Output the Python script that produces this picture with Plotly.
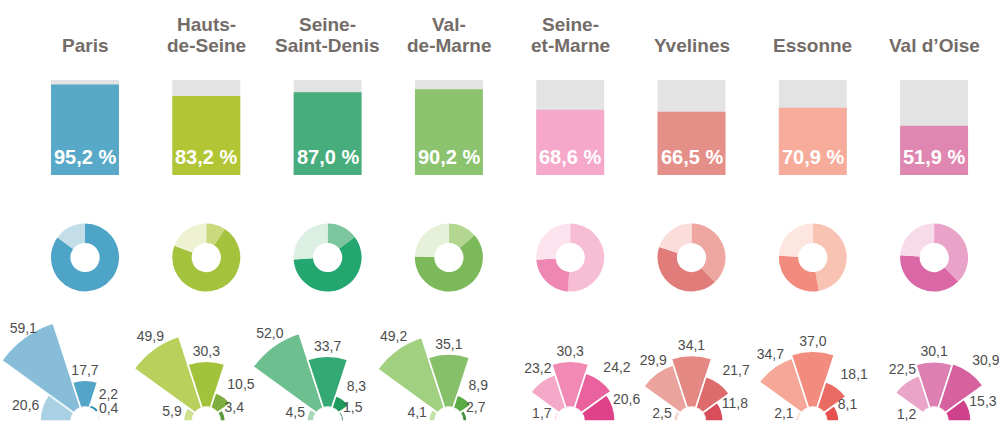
import math
import plotly.graph_objects as go

W, H = 999, 421

# ---------------- data ----------------
departments = ["Paris", "Hauts-<br>de-Seine", "Seine-<br>Saint-Denis", "Val-<br>de-Marne",
               "Seine-<br>et-Marne", "Yvelines", "Essonne", "Val d’Oise"]

bar_values = [95.2, 83.2, 87.0, 90.2, 68.6, 66.5, 70.9, 51.9]

# donut segments, clockwise from 12 o'clock
donut_a = [0.0, 9.2, 14.7, 13.6, 51.1, 38.0, 47.2, 37.5]
donut_b = [85.0, 71.4, 59.4, 61.9, 22.8, 42.0, 28.6, 38.6]
donut_c = [15.0, 19.4, 25.9, 24.5, 26.1, 20.0, 24.2, 23.9]

# fan values, from left wedge to right wedge
fan_paris = [20.6, 59.1, 17.7, 2.2, 0.4]
fan_hauts_de_seine = [5.9, 49.9, 30.3, 10.5, 3.4]
fan_seine_saint_denis = [4.5, 52.0, 33.7, 8.3, 1.5]
fan_val_de_marne = [4.1, 49.2, 35.1, 8.9, 2.7]
fan_seine_et_marne = [1.7, 23.2, 30.3, 24.2, 20.6]
fan_yvelines = [2.5, 29.9, 34.1, 21.7, 11.8]
fan_essonne = [2.1, 34.7, 37.0, 18.1, 8.1]
fan_val_d_oise = [1.2, 22.5, 30.1, 30.9, 15.3]
fan_values = [fan_paris, fan_hauts_de_seine, fan_seine_saint_denis, fan_val_de_marne,
              fan_seine_et_marne, fan_yvelines, fan_essonne, fan_val_d_oise]

# ---------------- styles ----------------
bar_colors = ["#58a9c8", "#b1c535", "#47ad7d", "#8cc36f", "#f5a8ca", "#e58f89", "#f7ab9a", "#e087b1"]
donut_colors = [
    ["#c3dde9", "#4da4c6", "#c3dde9"],
    ["#c9d97c", "#a4c23b", "#eef2d3"],
    ["#7dc69d", "#24a670", "#dcefe3"],
    ["#b3d790", "#7bb95b", "#e7f1da"],
    ["#f7bdd5", "#ee87b1", "#fde3ee"],
    ["#eda6a0", "#e07d7a", "#fbdedb"],
    ["#f9c3b3", "#f08b7e", "#fde6df"],
    ["#e9a3c8", "#da68a6", "#f7dbe9"],
]
fan_colors = [
    ["#a9d1e3", "#87bdd8", "#52a5c7", "#2a8db0", "#1e7694"],
    ["#cfe08f", "#b9d15c", "#a3c23c", "#7dae3e", "#5e9a3c"],
    ["#a8d8b8", "#6dbf8f", "#35a974", "#1f9a5d", "#137c4a"],
    ["#c3e2a8", "#a0d080", "#86c069", "#5aaa46", "#3f8f38"],
    ["#fbd3e3", "#f5a9c9", "#f08ab5", "#e9619d", "#e0428a"],
    ["#f6cfcb", "#eba39d", "#e48884", "#dd6b6c", "#d84c5b"],
    ["#fcd7cc", "#f6a797", "#f28c7e", "#ea6b63", "#e6504f"],
    ["#f4c6dc", "#e9a4c8", "#de7fb3", "#d7619f", "#cf428b"],
]

TITLE_COLOR = "#736c68"
LABEL_COLOR = "#4d4d4d"
FONT = "Liberation Sans, Arial, sans-serif"

# column geometry (pixels)
X0, STEP = 85.0, 121.3
cols = [X0 + STEP * i for i in range(len(departments))]

fig = go.Figure()

# ---------------- bars ----------------
idx = list(range(len(departments)))
fig.add_bar(x=idx, y=[100] * len(idx), width=0.56, marker=dict(color="#e3e3e3", line_width=0),
            hoverinfo="skip", xaxis="x", yaxis="y")
fig.add_bar(x=idx, y=bar_values, width=0.56, marker=dict(color=bar_colors, line_width=0),
            hoverinfo="skip", xaxis="x", yaxis="y")

annotations = []
for i, v in enumerate(bar_values):
    annotations.append(dict(x=i, y=0, xref="x", yref="y", yanchor="bottom", yshift=5,
                            text=f"{v:.1f}".replace(".", ",") + " %", showarrow=False,
                            font=dict(family=FONT, size=20, color="white", weight="bold")))

# titles
for i, name in enumerate(departments):
    lines = name.split("<br>")
    ys = [45.5] if len(lines) == 1 else [24.5, 45.5]
    for line, py in zip(lines, ys):
        annotations.append(dict(x=cols[i] / W, y=1 - py / H, xref="paper", yref="paper",
                                xanchor="center", yanchor="middle", text=line, showarrow=False,
                                font=dict(family=FONT, size=19, color=TITLE_COLOR, weight="bold")))

# ---------------- donuts ----------------
DCY, DR = 257.5, 34.0
for i in idx:
    cx = cols[i]
    fig.add_trace(go.Pie(values=[donut_a[i], donut_b[i], donut_c[i]],
                         marker=dict(colors=donut_colors[i], line=dict(width=0)),
                         hole=0.43, sort=False, direction="clockwise", rotation=0,
                         textinfo="none", hoverinfo="skip", showlegend=False,
                         domain=dict(x=[(cx - DR) / W, (cx + DR) / W],
                                     y=[1 - (DCY + DR) / H, 1 - (DCY - DR) / H])))

# ---------------- fans (barpolar) ----------------
HOLE_PX = 14.0
K = 1.506          # px per percentage point
FCY = 421.0
THETAS = [162, 126, 90, 54, 18]
TPOS = ["middle left", "top center", "top center", "top right", "top right"]
TPAD_PX = [3, 6, 2, 6, 0]


def sector_bbox(s0, s1):
    a0 = s0 % 360
    a1 = a0 + (s1 - s0)
    ax0, ay0 = math.cos(math.radians(a0)), math.sin(math.radians(a0))
    ax1, ay1 = math.cos(math.radians(a1)), math.sin(math.radians(a1))
    if (a0 <= 90 <= a1) or (a0 > 90 and a1 >= 450):
        y1 = 1
    elif ay0 <= 0 and ay1 <= 0:
        y1 = 0
    else:
        y1 = max(ay0, ay1)
    if (a0 <= 270 <= a1) or (a0 > 270 and a1 >= 630):
        y0 = -1
    elif ay0 >= 0 and ay1 >= 0:
        y0 = 0
    else:
        y0 = min(ay0, ay1)
    if (a0 <= 0 <= a1) or (a0 > 0 and a1 >= 360):
        x1 = 1
    elif ax0 <= 0 and ax1 <= 0:
        x1 = 0
    else:
        x1 = max(ax0, ax1)
    if (a0 <= 180 <= a1) or (a0 > 180 and a1 >= 540):
        x0 = -1
    elif ax0 >= 0 and ax1 >= 0:
        x0 = 0
    else:
        x0 = min(ax0, ax1)
    return x0, y0, x1, y1


polar_count = [0]


def add_fan(cx, vals, thetas, colors, tpos, tpad, sector):
    bx0, by0, bx1, by1 = sector_bbox(*sector)
    # largest radius (px) that keeps the subplot inside the figure
    limits = [FCY / max(by1, 1e-9)]
    if bx0 < 0:
        limits.append(cx / -bx0)
    if bx1 > 0:
        limits.append((W - cx) / bx1)
    r_allowed = (min(limits) - HOLE_PX) / K - 0.05
    text_r = [min(v + p / K, max(r_allowed, v)) for v, p in zip(vals, tpad)]
    rmax = max(max(vals), max(text_r)) + 0.01
    R = HOLE_PX + K * rmax
    polar_count[0] += 1
    n = polar_count[0]
    name = "polar" if n == 1 else f"polar{n}"
    fig.update_layout(**{name: dict(
        domain=dict(x=[max(0, (cx + R * bx0) / W), min(1, (cx + R * bx1) / W)],
                    y=[max(0, 1 - (FCY - R * by0) / H), min(1, 1 - (FCY - R * by1) / H)]),
        sector=list(sector), hole=HOLE_PX / R, bgcolor="rgba(0,0,0,0)",
        radialaxis=dict(range=[0, rmax], visible=False),
        angularaxis=dict(visible=False, rotation=0, direction="counterclockwise"),
    )})
    fig.add_trace(go.Barpolar(r=vals, theta=thetas, width=[36] * len(vals),
                              marker=dict(color=colors, line=dict(color="white", width=1.6)),
                              subplot=name, hoverinfo="skip", showlegend=False))
    fig.add_trace(go.Scatterpolar(r=text_r, theta=thetas, mode="text",
                                  text=[f"{v:.1f}".replace(".", ",") for v in vals],
                                  textposition=tpos, cliponaxis=False,
                                  textfont=dict(family=FONT, size=14, color=LABEL_COLOR),
                                  subplot=name, hoverinfo="skip", showlegend=False))


for i in idx:
    cx = cols[i]
    vals = fan_values[i]
    R_full = HOLE_PX + K * max(vals)
    if cx - R_full >= 0 and cx + R_full <= W:
        add_fan(cx, vals, THETAS, fan_colors[i], TPOS, TPAD_PX, (0, 180))
    else:
        add_fan(cx, vals[1:], THETAS[1:], fan_colors[i][1:], TPOS[1:], TPAD_PX[1:], (0, 144))
        add_fan(cx, vals[:1], THETAS[:1], fan_colors[i][:1], TPOS[:1], TPAD_PX[:1], (144, 180))

# ---------------- layout ----------------
fig.update_layout(
    width=W, height=H, margin=dict(l=0, r=0, t=0, b=0),
    paper_bgcolor="white", plot_bgcolor="rgba(0,0,0,0)",
    barmode="overlay", showlegend=False,
    xaxis=dict(domain=[0, 1], range=[-X0 / STEP, (W - X0) / STEP], visible=False, fixedrange=True),
    yaxis=dict(domain=[1 - 175 / H, 1 - 80 / H], range=[0, 100], visible=False, fixedrange=True),
    annotations=annotations,
    font=dict(family=FONT),
)

fig.write_html("out.html", config={"displayModeBar": False},
               post_script="document.body.style.margin='0';document.body.style.overflow='hidden';")
